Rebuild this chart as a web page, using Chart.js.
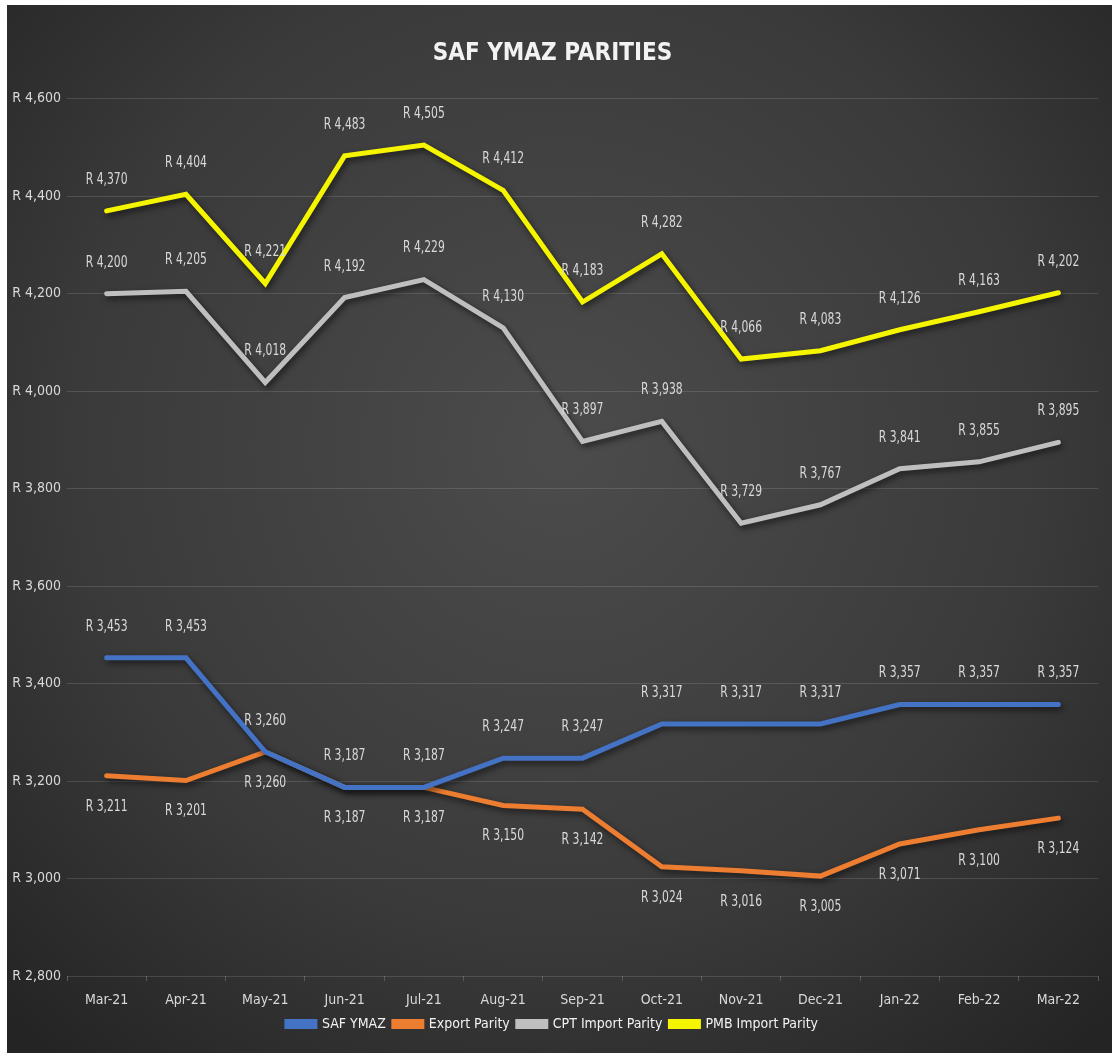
<!DOCTYPE html>
<html>
<head>
<meta charset="utf-8">
<script src="https://cdn.jsdelivr.net/npm/chart.js@4.4.1/dist/chart.umd.min.js"></script>
<style>
	body { margin: 0; background: #ffffff; }
	#wrap { position: absolute; left: 7px; top: 5px; width: 1105px; height: 1048px; }
</style>
</head>
<body>
<div id="wrap"><canvas id="parities"></canvas></div>
<script>
// Months on the x axis
const months = ['Mar-21', 'Apr-21', 'May-21', 'Jun-21', 'Jul-21', 'Aug-21', 'Sep-21',
	'Oct-21', 'Nov-21', 'Dec-21', 'Jan-22', 'Feb-22', 'Mar-22'];

// Rand per ton
const safYmaz = [3453, 3453, 3260, 3187, 3187, 3247, 3247, 3317, 3317, 3317, 3357, 3357, 3357];
const exportParity = [3211, 3201, 3260, 3187, 3187, 3150, 3142, 3024, 3016, 3005, 3071, 3100, 3124];
const cptImportParity = [4200, 4205, 4018, 4192, 4229, 4130, 3897, 3938, 3729, 3767, 3841, 3855, 3895];
const pmbImportParity = [4370, 4404, 4221, 4483, 4505, 4412, 4183, 4282, 4066, 4083, 4126, 4163, 4202];

const yMin = 2800;
const yMax = 4600;
const yStep = 200;

const FONT = "'DejaVu Sans Condensed', 'Liberation Sans Narrow', sans-serif";

/* Format as R 4,600 */
function rand(v) {
	return 'R ' + v.toLocaleString('en-US');
}

/* Dark radial background like the Excel style */
const backgroundPlugin = {
	id: 'darkBackground',
	beforeDraw(chart) {
		const { ctx, width, height } = chart;
		const g = ctx.createRadialGradient(width * 0.5, height * 0.42, 20, width * 0.5, height * 0.42, width * 0.72);
		g.addColorStop(0, '#4b4b4b');
		g.addColorStop(0.6, '#3a3a3a');
		g.addColorStop(1, '#242424');
		ctx.save();
		ctx.fillStyle = g;
		ctx.fillRect(0, 0, width, height);
		ctx.restore();
	}
};

/* Soft shadow under the lines */
const shadowPlugin = {
	id: 'lineShadow',
	beforeDatasetDraw(chart) {
		const ctx = chart.ctx;
		ctx.save();
		ctx.shadowColor = 'rgba(0,0,0,0.6)';
		ctx.shadowBlur = 6;
		ctx.shadowOffsetX = 2;
		ctx.shadowOffsetY = 3;
	},
	afterDatasetDraw(chart) {
		chart.ctx.restore();
	}
};

/* Value labels: above the point, below for export parity (narrow text, like Calibri) */
const valueLabels = {
	id: 'valueLabels',
	afterDatasetsDraw(chart) {
		const ctx = chart.ctx;
		ctx.save();
		ctx.font = '15px ' + FONT;
		ctx.fillStyle = '#d9d9d9';
		ctx.textAlign = 'center';
		ctx.textBaseline = 'middle';
		chart.data.datasets.forEach((ds, i) => {
			const meta = chart.getDatasetMeta(i);
			const dir = ds.labelBelow ? 1 : -1;
			meta.data.forEach((pt, j) => {
				ctx.save();
				ctx.translate(pt.x, pt.y + dir * 31);
				ctx.scale(0.8, 1);
				ctx.fillText(rand(ds.data[j]), 0, 0);
				ctx.restore();
			});
		});
		ctx.restore();
	}
};

const ctx = document.getElementById('parities').getContext('2d');

new Chart(ctx, {
	type: 'line',
	data: {
		labels: months,
		datasets: [
			{ label: 'SAF YMAZ', data: safYmaz, borderColor: '#4472c4', backgroundColor: '#4472c4' },
			{ label: 'Export Parity', data: exportParity, borderColor: '#ed7d31', backgroundColor: '#ed7d31', labelBelow: true },
			{ label: 'CPT Import Parity', data: cptImportParity, borderColor: '#bfbfbf', backgroundColor: '#bfbfbf' },
			{ label: 'PMB Import Parity', data: pmbImportParity, borderColor: '#f5f500', backgroundColor: '#f5f500' }
		]
	},
	options: {
		responsive: true,
		maintainAspectRatio: false,
		animation: false,
		layout: { padding: { top: 34, left: 0, right: 14, bottom: 12 } },
		elements: {
			line: { borderWidth: 5, tension: 0, borderJoinStyle: 'miter', borderCapStyle: 'round' },
			point: { radius: 0, hoverRadius: 0 }
		},
		plugins: {
			title: {
				display: true,
				text: 'SAF YMAZ PARITIES',
				color: '#f2f2f2',
				font: { family: FONT, size: 24, weight: 'bold' },
				padding: { top: 0, bottom: 31 }
			},
			legend: {
				position: 'bottom',
				labels: {
					color: '#f2f2f2',
					font: { family: FONT, size: 14 },
					boxWidth: 28,
					boxHeight: 5,
					padding: 8
				}
			},
			tooltip: { enabled: false }
		},
		scales: {
			x: {
				offset: true,
				grid: {
					offset: true,
					drawOnChartArea: false,
					drawTicks: true,
					tickLength: 5,
					color: '#5a5a5a'
				},
				border: { display: false },
				ticks: {
					color: '#d9d9d9',
					font: { family: FONT, size: 14 },
					padding: 11,
					maxRotation: 0
				},
				afterFit: scale => { scale.height = 33; }
			},
			y: {
				min: yMin,
				max: yMax,
				grid: { color: 'rgba(255,255,255,0.13)', drawTicks: false },
				border: { display: false },
				ticks: {
					stepSize: yStep,
					color: '#d9d9d9',
					font: { family: FONT, size: 14 },
					padding: 6,
					callback: value => rand(value)
				},
				afterFit: scale => { scale.width = 60; }
			}
		}
	},
	plugins: [backgroundPlugin, shadowPlugin, valueLabels]
});
</script>
</body>
</html>
